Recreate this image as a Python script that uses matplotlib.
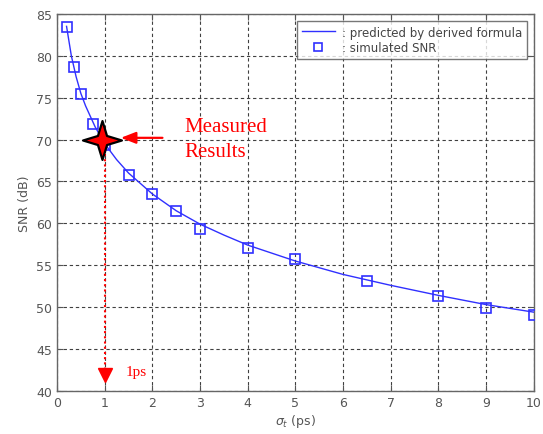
import matplotlib
matplotlib.use("Agg")
import matplotlib.pyplot as plt
from matplotlib.path import Path
import numpy as np

# predicted curve
line_x = [0.2, 0.3, 0.4, 0.5, 0.6, 0.8, 1.0, 1.25, 1.5, 2.0, 2.5, 3.0, 3.5, 4.0, 5.0, 6.0, 7.0, 8.0, 9.0, 10.0]
line_y = [83.5, 80.0, 77.5, 75.5, 74.0, 71.5, 69.5, 67.6, 66.0, 63.5, 61.5, 59.9, 58.6, 57.4, 55.5, 53.9, 52.6, 51.4, 50.3, 49.4]

# simulated SNR markers
sim_x = [0.2, 0.35, 0.5, 0.75, 1.0, 1.5, 2.0, 2.5, 3.0, 4.0, 5.0, 6.5, 8.0, 9.0, 10.0]
sim_y = [83.4, 78.6, 75.4, 71.8, 69.3, 65.8, 63.5, 61.5, 59.3, 57.1, 55.7, 53.1, 51.3, 49.9, 49.1]

meas_x = [0.95]
meas_y = [70.0]

xticks = list(range(0, 11))
yticks = list(range(40, 86, 5))

# 4-pointed star marker
ang = np.deg2rad(np.arange(0, 360, 45))
rad = np.array([1.0, 0.33] * 4)
verts = np.column_stack([rad * np.cos(ang), rad * np.sin(ang)])
verts = np.vstack([verts, verts[:1]])
codes = [Path.MOVETO] + [Path.LINETO] * 7 + [Path.CLOSEPOLY]
star = Path(verts, codes)

fig = plt.figure(figsize=(5.43, 4.35), dpi=100)
ax = fig.add_axes([0.105, 0.099, 0.878, 0.867])

blue = "#3030ff"
ax.plot(line_x, line_y, color=blue, lw=1.0, label=": predicted by derived formula", zorder=3)
ax.plot(sim_x, sim_y, ls="none", marker="s", ms=7, mfc="none", mec=blue, mew=1.2,
        label=": simulated SNR", zorder=4)

# measured point
ax.plot(meas_x, meas_y, ls="none", marker=star, ms=28, mfc="red", mec="black", mew=1.6, zorder=6)

# vertical red dotted drop line with arrow
ax.plot([1.0, 1.0], [68.3, 42.5], color="red", ls=(0, (1, 1.5)), lw=1.5, zorder=5)
ax.plot([1.0], [41.9], marker="v", ms=10, color="red", ls="none", zorder=5)
ax.text(1.45, 42.3, "1ps", color="red", fontsize=11, family="Liberation Serif", va="center", ha="left")

# arrow to measured point
ax.annotate("", xy=(1.28, 70.2), xytext=(2.27, 70.2),
            arrowprops=dict(arrowstyle="-|>,head_length=0.9,head_width=0.35", color="red", lw=1.6), zorder=6)
ax.text(2.68, 71.6, "Measured", color="red", fontsize=15, family="Liberation Serif", va="center", ha="left")
ax.text(2.68, 68.6, "Results", color="red", fontsize=15, family="Liberation Serif", va="center", ha="left")

ax.set_xlim(0, 10)
ax.set_ylim(40, 85)
ax.set_xticks(xticks)
ax.set_yticks(yticks)
ax.grid(True, color="#404040", ls=(0, (3, 2.5)), lw=0.8)
ax.tick_params(direction="in", colors="#555555", labelsize=9, length=4, top=True, right=True, labeltop=False, labelright=False)
for s in ax.spines.values():
    s.set_color("#666666")
    s.set_linewidth(1.0)

ax.set_xlabel(r"$\sigma_t$ (ps)", color="#555555", fontsize=9, labelpad=2)
ax.set_ylabel("SNR (dB)", color="#555555", fontsize=9, labelpad=4)

leg = ax.legend(loc="upper right", fontsize=8.5, frameon=True, fancybox=False, edgecolor="#555555",
                handlelength=2.8, handletextpad=0.6, borderaxespad=0.6, labelspacing=0.2, markerscale=0.8)
for t in leg.get_texts():
    t.set_color("#444444")
leg.get_frame().set_linewidth(1.0)

fig.savefig("out.png", dpi=100)
